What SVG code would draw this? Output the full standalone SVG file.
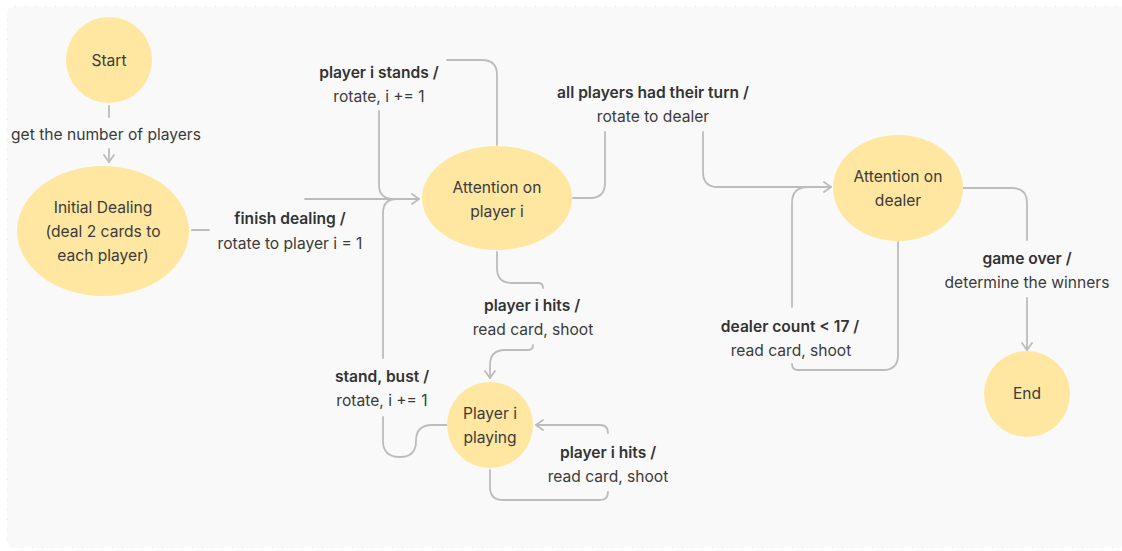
<svg xmlns="http://www.w3.org/2000/svg" width="1122" height="551" viewBox="0 0 1122 551">
  <style>
    .node { fill: #ffe7a1; }
    .t { font-family: Inter, "Noto Sans", "Liberation Sans", sans-serif; font-size: 15.6px; fill: #3b3b3b; text-anchor: middle; }
    .b { font-weight: 600; fill: #333333; }
    .c { fill: none; stroke: #bcbcbc; stroke-width: 1.8; stroke-linecap: round; }
  </style>
  <defs>
    <marker id="arr" viewBox="0 0 12 12" refX="10" refY="6" markerWidth="12" markerHeight="12" markerUnits="userSpaceOnUse" orient="auto">
      <path d="M3,1 L10,6 L3,11" fill="none" stroke="#bcbcbc" stroke-width="1.8" stroke-linecap="round" stroke-linejoin="round"/>
    </marker>
  </defs>
  <rect x="0" y="0" width="1122" height="551" fill="#ffffff"/>
  <rect x="7" y="6.5" width="1130" height="541" rx="8" fill="#f9f9f9" stroke="#e3e3e3" stroke-width="1" stroke-dasharray="1 9"/>

  <g id="connectors">
    <path class="c" d="M109,106 V117"/>
    <path class="c" d="M109,149 V162" marker-end="url(#arr)"/>
    <path class="c" d="M192,230 H209"/>
    <path class="c" d="M305,199 H419" marker-end="url(#arr)"/>
    <path class="c" d="M497,145 V75 Q497,60 482,60 H447"/>
    <path class="c" d="M379,111 V185 Q379,199 394,199"/>
    <path class="c" d="M447,425 H432 Q416,425 416,441 Q416,457 400,457 Q383,457 383,441 V417"/>
    <path class="c" d="M383,358 V213 Q383,199 397,199"/>
    <path class="c" d="M497,252 V268 Q497,283 512,283 H538 Q543,283 543,288"/>
    <path class="c" d="M533,345 Q533,350 528,350 H505 Q490,350 490,365 V378" marker-end="url(#arr)"/>
    <path class="c" d="M490,470 V487 Q490,500 503,500 H600 Q608,500 608,492"/>
    <path class="c" d="M608,433 Q608,425 600,425 H536" marker-end="url(#arr)"/>
    <path class="c" d="M573,198 H590 Q605,198 605,183 V132"/>
    <path class="c" d="M703,132 V172 Q703,187 718,187 H831" marker-end="url(#arr)"/>
    <path class="c" d="M898,242 V355 Q898,370 883,370 H798 Q792,370 792,364"/>
    <path class="c" d="M792,307 V203 Q792,187 808,187"/>
    <path class="c" d="M963,188 H1012 Q1027,188 1027,203 V240"/>
    <path class="c" d="M1027,298 V350" marker-end="url(#arr)"/>
  </g>

  <g id="labels">
    <text class="t" x="106" y="139.5">get the number of players</text>
    <text class="t b" x="290" y="223.5">finish dealing /</text>
    <text class="t" x="290" y="248.5">rotate to player i = 1</text>
    <text class="t b" x="379" y="77.5">player i stands /</text>
    <text class="t" x="379" y="101.5">rotate, i += 1</text>
    <text class="t b" x="653" y="97.5">all players had their turn /</text>
    <text class="t" x="653" y="121.5">rotate to dealer</text>
    <text class="t b" x="1027" y="263.5">game over /</text>
    <text class="t" x="1027" y="287.5">determine the winners</text>
    <text class="t b" x="790" y="331.5">dealer count &lt; 17 /</text>
    <text class="t" x="791" y="355.5">read card, shoot</text>
    <text class="t b" x="532" y="310.5">player i hits /</text>
    <text class="t" x="533" y="334.5">read card, shoot</text>
    <text class="t b" x="382" y="381.5">stand, bust /</text>
    <text class="t" x="382" y="405.5">rotate, i += 1</text>
    <text class="t b" x="608" y="457.5">player i hits /</text>
    <text class="t" x="608" y="481.5">read card, shoot</text>
  </g>

  <g id="start">
    <circle class="node" cx="109" cy="60" r="43"/>
    <text class="t" x="109" y="66">Start</text>
  </g>
  <g id="initial-dealing">
    <ellipse class="node" cx="103" cy="231" rx="86" ry="65"/>
    <text class="t" x="103" y="212.5">Initial Dealing</text>
    <text class="t" x="103" y="236.5">(deal 2 cards to</text>
    <text class="t" x="103" y="260.5">each player)</text>
  </g>
  <g id="attention-player">
    <ellipse class="node" cx="497" cy="198" rx="75" ry="52"/>
    <text class="t" x="497" y="192.5">Attention on</text>
    <text class="t" x="497" y="216.5">player i</text>
  </g>
  <g id="player-playing">
    <circle class="node" cx="490" cy="425" r="43"/>
    <text class="t" x="490" y="418.5">Player i</text>
    <text class="t" x="490" y="442.5">playing</text>
  </g>
  <g id="attention-dealer">
    <ellipse class="node" cx="898" cy="188" rx="65" ry="53"/>
    <text class="t" x="898" y="181.5">Attention on</text>
    <text class="t" x="898" y="205.5">dealer</text>
  </g>
  <g id="end">
    <circle class="node" cx="1027" cy="394" r="43"/>
    <text class="t" x="1027" y="399">End</text>
  </g>
</svg>
